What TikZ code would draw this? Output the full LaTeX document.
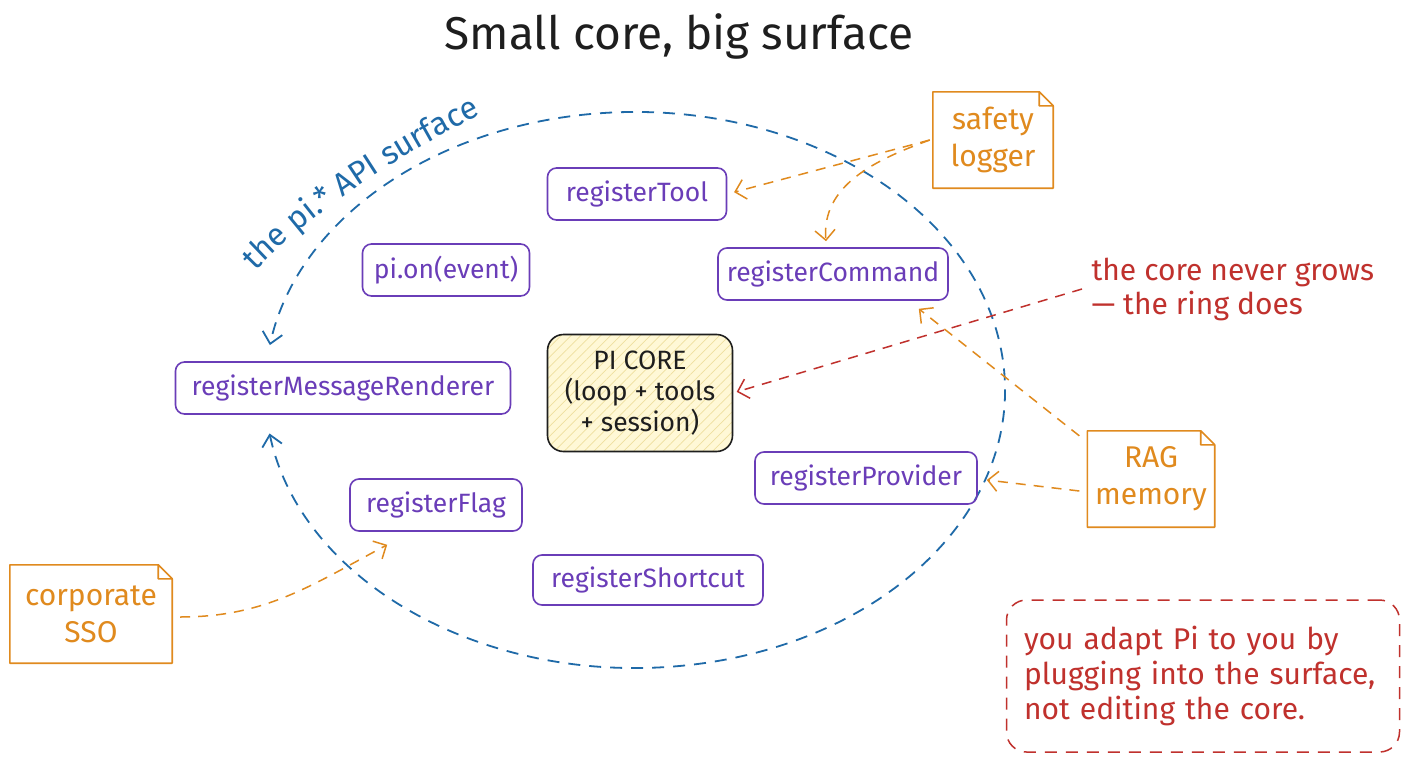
\documentclass[tikz,border=0pt]{standalone}
\usepackage{fontspec}
\setmainfont{Fira Sans}
\usetikzlibrary{arrows.meta,patterns.meta,calc,decorations.text}

\definecolor{apipurple}{HTML}{6A3DB8}
\definecolor{noteorange}{HTML}{E08A1E}
\definecolor{ringblue}{HTML}{1F6AA8}
\definecolor{notered}{HTML}{C0312D}
\definecolor{coreyellow}{HTML}{FFF8D6}
\definecolor{hatchyellow}{HTML}{EEDF9E}
\definecolor{ink}{HTML}{1E1E1E}

\newcommand\fsz[2]{\fontsize{#1}{#2}\selectfont}

% sticky note outline with a folded top-right corner
\newcommand\drawnote[1]{%
  \draw[noteorange, line width=1.6pt, line join=round]
    (#1.south west) -- (#1.north west) -- ([xshift=-14pt]#1.north east)
    -- ([yshift=-14pt]#1.north east) -- (#1.south east) -- cycle
    ([xshift=-14pt]#1.north east) -- ([xshift=-14pt,yshift=-14pt]#1.north east)
    -- ([yshift=-14pt]#1.north east);}

\tikzset{
  api/.style={draw=apipurple, line width=1.6pt, rounded corners=9pt,
    text=apipurple, font=\fsz{26.5}{30}, minimum height=52pt, inner sep=0pt},
  stickynote/.style={rectangle, inner sep=0pt, text=noteorange,
    font=\fsz{30}{37}, align=center},
  plug/.style={draw=noteorange, line width=1.5pt, dash pattern=on 10pt off 8pt,
    -{Straight Barb[length=10pt,width=20pt]}},
  ringline/.style={draw=ringblue, line width=1.8pt, dash pattern=on 12pt off 9pt,
    {Straight Barb[length=11pt,width=20pt]}-{Straight Barb[length=11pt,width=20pt]}},
  remark/.style={draw=notered, line width=1.5pt, dash pattern=on 10pt off 8pt,
    -{Straight Barb[length=10pt,width=20pt]}},
}

\begin{document}
\begin{tikzpicture}[x=1pt,y=-1pt]
\useasboundingbox[fill=white] (0,0) rectangle (1408,768);

% title
\node[font=\fsz{46}{52}, text=ink] (title) at (679,36) {Small core, big surface};

% the API ring, with its label curving along the outside
\coordinate (ringc) at (635,390);
\draw[ringline] ($(ringc)+(-171:370pt and 278pt)$)
  arc[start angle=-171, end angle=170.7, x radius=370pt, y radius=278pt];
\path[decorate, decoration={text along path, text align=center,
    text color=ringblue, text={|\fsz{32}{32}|the pi.* API surface}}]
  (228,302) .. controls (292,222) and (395,155) .. (518,96);

% core
\node[draw=ink, line width=1.6pt, rounded corners=16pt,
      minimum width=185pt, minimum height=117pt, inner sep=0pt,
      preaction={fill=coreyellow},
      pattern={Lines[angle=45,distance=7pt,line width=0.7pt]},
      pattern color=hatchyellow,
      align=center, font=\fsz{26.5}{31}, text=ink]
  (core) at (640,393) {PI CORE\\(loop + tools\\+ session)};

% registration points
\node[api, minimum width=179pt] (tool)   at (637,194) {registerTool};
\node[api, minimum width=167pt] (pion)   at (446,270) {pi.on(event)};
\node[api, minimum width=230pt] (cmd)    at (833,274) {registerCommand};
\node[api, minimum width=335pt] (render) at (343,388) {registerMessageRenderer};
\node[api, minimum width=222pt] (prov)   at (866,478) {registerProvider};
\node[api, minimum width=172pt] (flag)   at (436,505) {registerFlag};
\node[api, minimum width=230pt, minimum height=50pt] (short) at (648,580) {registerShortcut};

% extensions
\node[stickynote, minimum width=120pt, minimum height=96pt] (safety) at (993,140) {safety\\logger};
\node[stickynote, minimum width=127pt, minimum height=96pt] (rag) at (1151,479) {RAG\\memory};
\node[stickynote, minimum width=162pt, minimum height=98pt] (sso) at (91,614) {corporate\\SSO};
\drawnote{safety}
\drawnote{rag}
\drawnote{sso}

% plug-in connections
\draw[plug, shorten >=7pt] ([xshift=-3pt]safety.west) -- (tool.east);
\draw[plug] ([xshift=-3pt]safety.west) to[out=200, in=95] ([xshift=-7pt,yshift=6pt]cmd.north);
\draw[plug] ([xshift=-8pt,yshift=-5pt]rag.north west) -- ([xshift=-30pt,yshift=-8pt]cmd.south east);
\draw[plug] ([xshift=-8pt,yshift=-12pt]rag.west) -- ([xshift=9pt,yshift=-2pt]prov.east);
\draw[plug] ([xshift=8pt,yshift=-3pt]sso.east) to[out=0, in=208] ([xshift=38pt,yshift=-13pt]flag.south west);

% remarks
\node[anchor=west, align=left, text=notered, font=\fsz{30}{34}] (grow) at (1088,289)
  {the core never grows\\— the ring does};
\draw[remark, shorten >=4pt] ([xshift=-6pt]grow.west) -- (core.east);

\node[draw=notered, line width=1.5pt, dash pattern=on 12pt off 9pt, rounded corners=20pt,
      minimum width=393pt, minimum height=152pt, inner sep=0pt,
      text width=358pt, align=left, text=notered, font=\fsz{30}{35}]
  (moral) at (1203,676)
  {you adapt Pi to you by\\plugging into the surface,\\not editing the core.};
\end{tikzpicture}
\end{document}
